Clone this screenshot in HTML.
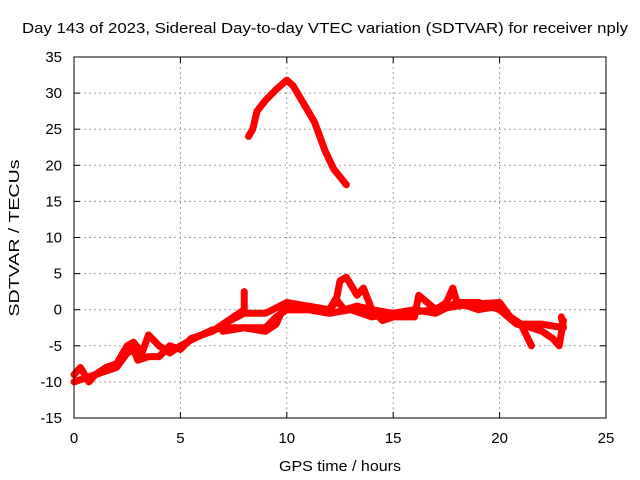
<!DOCTYPE html>
<html><head><meta charset="utf-8"><style>
body{margin:0;background:#fff}
svg{display:block;font-family:"Liberation Sans",sans-serif}
</style></head><body>
<svg id="chart" width="640" height="480">
<rect x="0" y="0" width="640" height="480" fill="#fff"/>
<text x="22" y="33" font-size="15" textLength="606" lengthAdjust="spacingAndGlyphs">Day 143 of 2023, Sidereal Day-to-day VTEC variation (SDTVAR) for receiver nply</text>
<text x="340" y="471" font-size="15" text-anchor="middle" textLength="122" lengthAdjust="spacingAndGlyphs">GPS time / hours</text>
<text transform="translate(19,238) rotate(-90)" font-size="15" text-anchor="middle" textLength="157" lengthAdjust="spacingAndGlyphs">SDTVAR / TECUs</text>
<g id="grid"></g><g id="series"></g>
<rect x="74" y="57" width="532" height="361" fill="none" stroke="#000" stroke-width="1"/>
</svg>
<script>
const xTicks=[0,5,10,15,20,25];
const yTicks=[-15,-10,-5,0,5,10,15,20,25,30,35];
const seriesA=[[8.2,24],[8.4,25],[8.6,27.5],[9,29],[9.5,30.5],[10,31.8],[10.3,31],[10.8,28.5],[11.3,26],[11.8,22],[12.2,19.5],[12.8,17.3]];
const seriesB=[[0,-9],[0.3,-8],[0.7,-10],[1,-9],[1.5,-8.5],[2,-8],[2.5,-6],[2.8,-5.5],[3,-7],[3.5,-6.5],[4,-6.5],[4.5,-5],[5,-5.5],[5.5,-4],[6,-3.5],[6.5,-3],[7,-2],[7.5,-1],[8,0],[8,2.5]];
const seriesC=[[0,-10],[0.5,-9.5],[1,-9],[1.5,-8],[2,-7.5],[2.5,-5],[2.8,-4.5],[3.2,-6],[3.5,-3.5],[4,-5],[4.5,-6],[5,-5],[5.5,-4.2],[6,-3.5],[6.5,-2.8],[7,-2.5],[8,-2.5],[9,-2.5],[9.5,-1],[10,0],[11,0],[12,0],[12.3,1],[12.5,4],[12.8,4.5],[13.3,2],[13.6,3],[14,0],[15,-0.5],[16,-0.3],[17,0],[18,0.5],[19,0.8],[20,1],[20.5,-1],[21,-2],[21.5,-5]];
const seriesD=[[7,-2],[8,-0.5],[9,-0.5],[10,1],[11,0.5],[12,0],[12.3,1.5],[12.7,0],[13.3,0.5],[14,0],[14.5,-1.5],[15,-1],[16,-1],[16.2,2],[17,0],[17.5,1],[17.8,3],[18,1],[19,1],[20,0],[20.8,-2],[21.5,-2.5],[22,-3],[22.5,-4],[22.8,-5],[23,-1.5]];
const seriesE=[[7,-3],[8,-2.5],[9,-3],[9.5,-2],[9.8,0],[10,0],[11,0],[12,-0.5],[13,0],[14,-1],[15,-0.5],[16,0],[17,-0.5],[18,1],[19,0],[20,0.5],[20.5,-1],[21,-2],[22,-2],[23,-2.5],[22.9,-1]];
const NS='http://www.w3.org/2000/svg';
const X0=74,X1=606,Y0=418,Y1=57;
function sx(v){return X0+(v-0)/(25-0)*(X1-X0);}
function sy(v){return Y0-(v+15)/50*(Y0-Y1);}
const g=document.getElementById('grid');
function mk(t,a,p){const e=document.createElementNS(NS,t);for(const k in a)e.setAttribute(k,a[k]);p.appendChild(e);return e;}
xTicks.forEach(t=>{
 const x=sx(t);
 if(t>0&&t<25){const l=mk('line',{x1:x,x2:x,y1:Y1,y2:Y0,stroke:'#a0a0a0','stroke-dasharray':'2,3'},g);
 
 }
 mk('line',{x1:x,x2:x,y1:Y0,y2:Y0-6,stroke:'#000'},g);
 mk('line',{x1:x,x2:x,y1:Y1,y2:Y1+6,stroke:'#000'},g);
 const tx=mk('text',{x:x,y:443,'font-size':15,'text-anchor':'middle'},g);tx.textContent=t;
 
 
});
yTicks.forEach(t=>{
 const y=sy(t);
 if(t>-15&&t<35){const l=mk('line',{x1:X0,x2:X1,y1:y,y2:y,stroke:'#a0a0a0','stroke-dasharray':'2,3'},g);
 
 }
 mk('line',{x1:X0,x2:X0+6,y1:y,y2:y,stroke:'#000'},g);
 mk('line',{x1:X1,x2:X1-6,y1:y,y2:y,stroke:'#000'},g);
 const tx=mk('text',{x:62,y:y+5,'font-size':15,'text-anchor':'end'},g);tx.textContent=t;
 
 
});
const s=document.getElementById('series');
[seriesA,seriesB,seriesC,seriesD,seriesE].forEach((d,i)=>{
 const p=mk('polyline',{points:d.map(q=>sx(q[0])+','+sy(q[1])).join(' '),fill:'none',stroke:'#f00','stroke-width':7,'stroke-linejoin':'round','stroke-linecap':'round'},s);
 
 
});
</script>
</body></html>
